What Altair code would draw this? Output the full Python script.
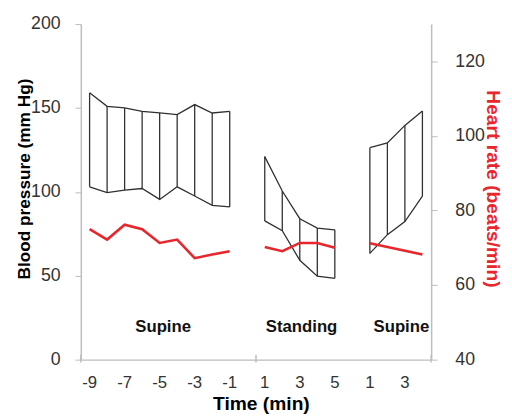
import altair as alt
import pandas as pd

# ---- data ----
tick_labels = ["-9", "-7", "-5", "-3", "-1", "1", "3", "5", "1", "3"]
tick_label_slots = [0, 2, 4, 6, 8, 10, 12, 14, 16, 18]

# category slots: supine -9..-1 -> 0..8, standing 1..5 -> 10..14, supine 1..4 -> 16..19
slot_supine1 = [0, 1, 2, 3, 4, 5, 6, 7, 8]
slot_standing = [10, 11, 12, 13, 14]
slot_supine2 = [16, 17, 18, 19]

sys_supine1 = [159, 151, 150, 148, 147, 146, 152, 147, 148]
dia_supine1 = [103, 99.5, 101, 102, 95.5, 103, 97.5, 92, 91]
hr_supine1 = [75, 72.2, 76.2, 75, 71.3, 72.2, 67.2, 68.2, 69.1]

sys_standing = [121, 100.5, 84, 78.4, 77.4]
dia_standing = [82.7, 76.8, 59.2, 49.7, 48.5]
hr_standing = [70.2, 69.1, 71.3, 71.3, 70.0]

sys_supine2 = [126.3, 129.2, 139.6, 148.2]
dia_supine2 = [63.3, 74.5, 82.3, 97.4]
hr_supine2 = [71.2, 70.2, 69.2, 68.2]

phase_names = ["Supine", "Standing", "Supine"]
phase_label_slots = [4.2, 12.1, 17.8]
phase_label_y = [19.5, 19.5, 19.5]

axis_tick_slots = [-0.5, 9.5, 19.5]

# ---- build table ----
rows = []
for pid, (sl, sy, di, hr) in enumerate([
    (slot_supine1, sys_supine1, dia_supine1, hr_supine1),
    (slot_standing, sys_standing, dia_standing, hr_standing),
    (slot_supine2, sys_supine2, dia_supine2, hr_supine2),
]):
    for s, a, b, h in zip(sl, sy, di, hr):
        rows.append({"slot": s, "sys": a, "dia": b, "hr": h, "phase": pid})
df = pd.DataFrame(rows)

lab_df = pd.DataFrame({"slot": phase_label_slots, "y": phase_label_y, "text": phase_names})
tick_df = pd.DataFrame({"slot": axis_tick_slots})
xlab_df = pd.DataFrame({"slot": tick_label_slots, "text": tick_labels})

FONT = "Liberation Sans"
AXIS_GRAY = "#bdbdbd"
LINE = "#303030"
RED = "#e8262b"

x_enc = alt.X(
    "slot:Q",
    scale=alt.Scale(domain=[-0.5, 19.5], nice=False, zero=False),
    axis=alt.Axis(
        labels=False,
        ticks=False,
        grid=False,
        domainColor=AXIS_GRAY,
        domainWidth=1.5,
        title="Time (min)",
        titleFont=FONT,
        titleFontSize=19.5,
        titleFontWeight="bold",
        titleColor="#000000",
        titleX=183,
        titleY=45,
        titleBaseline="middle",
    ),
)

bp_scale = alt.Scale(domain=[0, 200], nice=False)
bp_axis = alt.Axis(
    values=[0, 50, 100, 150, 200],
    grid=False,
    domainColor=AXIS_GRAY,
    domainWidth=1.5,
    tickColor=AXIS_GRAY,
    tickSize=6,
    labelFont=FONT,
    labelFontSize=18,
    labelColor="#333333",
    labelPadding=15,
    title="Blood pressure (mm Hg)",
    titleFont=FONT,
    titleFontSize=17.5,
    titleFontWeight="bold",
    titleColor="#000000",
    titleAngle=-90,
    titleX=-57,
    titleY=157,
    titleBaseline="middle",
)

base = alt.Chart(df)

sys_line = base.mark_line(color=LINE, strokeWidth=1.3).encode(
    x=x_enc,
    y=alt.Y("sys:Q", scale=bp_scale, axis=bp_axis),
    detail="phase:N",
)
dia_line = base.mark_line(color=LINE, strokeWidth=1.3).encode(
    x="slot:Q", y="dia:Q", detail="phase:N"
)
verts = base.mark_rule(color=LINE, strokeWidth=1.3).encode(
    x="slot:Q", y="dia:Q", y2="sys:Q"
)
labels = alt.Chart(lab_df).mark_text(
    font=FONT, fontSize=17, fontWeight="bold", color="#111111", baseline="middle"
).encode(x="slot:Q", y="y:Q", text="text:N")
xticks = alt.Chart(tick_df).mark_rule(color=AXIS_GRAY, strokeWidth=1.5).encode(
    x="slot:Q", y=alt.value(336), y2=alt.value(344)
)
xlabels = alt.Chart(xlab_df).mark_text(
    font=FONT, fontSize=17, color="#333333", baseline="middle"
).encode(x="slot:Q", y=alt.value(365), text="text:N")

bp_layer = alt.layer(sys_line, dia_line, verts, labels, xticks, xlabels)

hr_line = base.mark_line(color=RED, strokeWidth=2.6).encode(
    x="slot:Q",
    y=alt.Y(
        "hr:Q",
        scale=alt.Scale(domain=[40, 130], nice=False, zero=False),
        axis=alt.Axis(
            orient="right",
            values=[40, 60, 80, 100, 120],
            grid=False,
            domainColor=AXIS_GRAY,
            domainWidth=1.5,
            tickColor=AXIS_GRAY,
            tickSize=6,
            labelFont=FONT,
            labelFontSize=18,
            labelColor="#333333",
            labelPadding=18,
            title="Heart rate (beats/min)",
            titleFont=FONT,
            titleFontSize=19.5,
            titleFontWeight="bold",
            titleColor=RED,
            titleAngle=90,
            titleX=62,
            titleY=167,
            titleBaseline="middle",
        ),
    ),
    detail="phase:N",
)

chart = (
    alt.layer(bp_layer, hr_line)
    .resolve_scale(y="independent")
    .properties(
        width=356,
        height=341,
        autosize=alt.AutoSizeParams(type="none"),
        padding={"left": 74, "top": 13, "right": 74, "bottom": 57},
    )
    .configure_view(stroke=None)
)

chart.save("out.html", embed_options={"renderer": "svg", "actions": False})
